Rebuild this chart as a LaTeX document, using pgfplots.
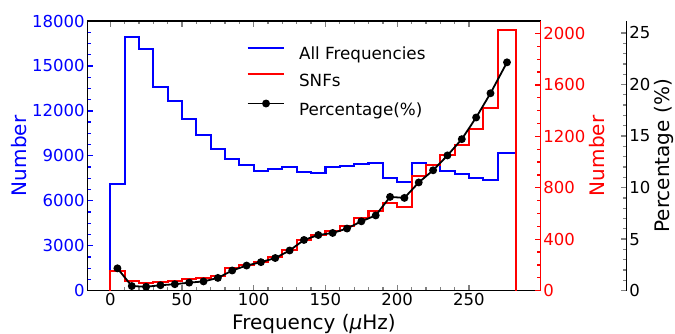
\documentclass[border=0pt]{standalone}
\usepackage{fontspec}
\setmainfont{DejaVu Sans}
\usepackage{pgfplots}
\pgfplotsset{compat=1.18}
\begin{document}
\begin{tikzpicture}
\useasboundingbox (-87.3pt,-43.3pt) rectangle (587.7pt,290.7pt);
\pgfplotsset{
  common/.style={
    scale only axis, height=269.7pt, at={(0pt,0pt)}, anchor=south west,
    ymin=0, enlargelimits=false,
    tick align=inside,
    major tick length=6pt, minor tick length=3.5pt,
    tick style={line width=1.3pt},
    axis line style={line width=1.5pt},
    ticklabel style={font=\fontsize{16.5}{19}\selectfont, inner sep=2.5pt},
    /pgf/number format/assume math mode=true,
    /pgf/number format/set thousands separator={},
    scaled y ticks=false,
  }
}
% ---------------- All frequencies (left, blue)
\begin{axis}[common, width=453.4pt, xmin=-16, xmax=300, ymax=18000,
  xtick={0,50,...,250}, minor x tick num=4, xtick pos=both, xticklabel pos=bottom,
  ytick={0,3000,...,18000}, minor y tick num=3, ytick pos=left,
  every major y tick/.append style={blue}, every minor y tick/.append style={blue},
  yticklabel style={blue},
  xlabel={Frequency ({\itshape μ}Hz)},
  ylabel={Number},
  every axis x label/.style={at={(axis description cs:0.5,0)}, anchor=base, yshift=-39.3pt, font=\fontsize{20}{24}\selectfont},
  every axis y label/.style={at={(axis description cs:-0.1352,0.5)}, rotate=90, anchor=base, blue, font=\fontsize{20}{24}\selectfont},
]
\addplot[blue, line width=2.1pt, const plot] coordinates {
(0,0) (0,7100) (10,16930) (20,16150) (30,13600) (40,12680) (50,11460) (60,10390)
(70,9480) (80,8790) (90,8390) (100,8010) (110,8120) (120,8280) (130,7940)
(140,7840) (150,8280) (160,8340) (170,8460) (180,8540) (190,7500) (200,7240)
(210,8540) (220,8390) (230,8010) (240,7790) (250,7500) (260,7390) (270,9170)
(283,9170) (283,0)};
\end{axis}
% ---------------- SNFs (right, red)
\begin{axis}[common, width=453.4pt, xmin=-16, xmax=300, ymax=2097,
  hide x axis, axis y line*=right, y axis line style={red,-},
  ytick={0,400,...,2000}, minor y tick num=3,
  every major y tick/.append style={red}, every minor y tick/.append style={red},
  yticklabel style={red},
  ylabel={Number},
  every axis y label/.style={at={(axis description cs:1.1418,0.5)}, rotate=90, anchor=base, red, font=\fontsize{20}{24}\selectfont},
]
\addplot[red, line width=2.1pt, const plot] coordinates {
(0,0) (0,153) (10,75) (20,58) (30,70) (40,78) (50,89) (60,96) (70,114) (80,174)
(90,200) (100,225) (110,260) (120,318) (130,394) (140,433) (150,464) (160,503)
(170,568) (180,620) (190,680) (200,653) (210,894) (220,977) (230,1052) (240,1133)
(250,1255) (260,1418) (270,2027) (283,2027) (283,0)};
\end{axis}
% ---------------- Percentage (offset right, black)
\begin{axis}[common, width=539.4pt, xmin=-16, xmax=359.93, ymax=26.16,
  hide x axis, axis y line*=right, y axis line style={black,-},
  ytick={0,5,...,25}, minor y tick num=4,
  ylabel={Percentage (\%)},
  every axis y label/.style={at={(axis description cs:1.0793,0.5)}, rotate=90, anchor=base, font=\fontsize{20}{24}\selectfont},
  legend cell align=left,
  legend style={draw=none, fill=none, at={(axis description cs:0.2955,0.905)}, anchor=north west,
    inner sep=0pt, outer sep=0pt, row sep=9.5pt, font=\fontsize{16.75}{20}\selectfont,
    nodes={inner sep=0pt, text height=12.5pt, text depth=4pt},
    /tikz/every odd column/.append style={column sep=13.7pt}},
]
\addlegendimage{legend image code/.code={\draw[blue, line width=2.1pt] (0pt,7.7pt) -- (36.6pt,7.7pt);}}
\addlegendentry{All Frequencies}
\addlegendimage{legend image code/.code={\draw[red, line width=2.1pt] (0pt,7.7pt) -- (36.6pt,7.7pt);}}
\addlegendentry{SNFs}
\addplot[black, line width=1.8pt, mark=*, mark size=3pt,
  legend image code/.code={\draw[black, line width=1.8pt] (0pt,7.7pt) -- (36.6pt,7.7pt); \fill[black] (18.3pt,7.7pt) circle (3pt);}]
coordinates {
(5,2.17) (15,0.45) (25,0.38) (35,0.53) (45,0.63) (55,0.78) (65,0.90) (75,1.24)
(85,1.96) (95,2.44) (105,2.77) (115,3.17) (125,3.90) (135,4.92) (145,5.40)
(155,5.60) (165,6.03) (175,6.73) (185,7.30) (195,9.10) (205,9.00) (215,10.50)
(225,11.68) (235,13.12) (245,14.70) (255,16.80) (265,19.15) (276.5,22.15)};
\addlegendentry{Percentage(\%)}
\end{axis}
\end{tikzpicture}
\end{document}
